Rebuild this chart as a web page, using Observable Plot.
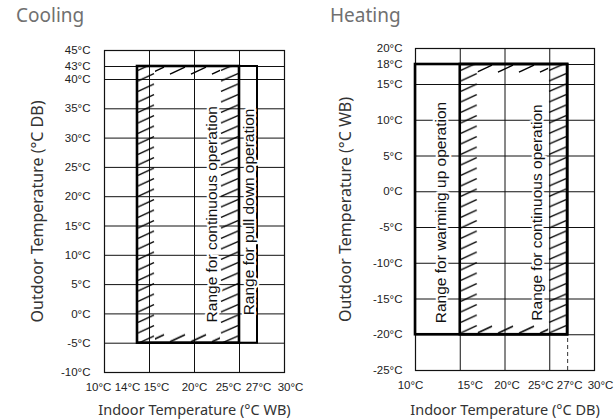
<!DOCTYPE html>
<html><head><meta charset="utf-8">
<script src="https://cdn.jsdelivr.net/npm/d3@7"></script>
<script src="https://cdn.jsdelivr.net/npm/@observablehq/plot@0.6"></script>
<style>
body{margin:0;background:#fff;}
#wrap{position:relative;width:615px;height:420px;overflow:hidden;background:#fff;}
.panel{position:absolute;top:0;}
.title{height:30px;font-family:"Noto Sans",sans-serif;font-size:19px;color:#707070;line-height:30px;white-space:nowrap;}
g[aria-label="tick label"] text{letter-spacing:-0.9px;}
</style></head><body>
<div id="wrap">
 <div class="panel" id="cool" style="left:0;width:307px"><div class="title" style="padding-left:16px">Cooling</div></div>
 <div class="panel" id="heat" style="left:307px;width:308px"><div class="title" style="padding-left:23px">Heating</div></div>
</div>
<script>
// ---------- data ----------
const coolingXTicks = [10, 14, 15, 20, 25, 27, 30];
const coolingYTicks = [45, 43, 40, 35, 30, 25, 20, 15, 10, 5, 0, -5, -10];
const coolingGridX = [10, 15, 20, 25, 30];
const coolingContinuous = [{x1: 14, x2: 25, y1: -5, y2: 43}];
const coolingPullDown = [{x1: 14, x2: 27, y1: -5, y2: 43}];
const coolingLabels = [
  {x: 22.0, y: 17.0, text: "Range for continuous operation"},
  {x: 26.1, y: 17.4, text: "Range for pull down operation"}
];

const heatingXTicks = [10, 15, 20, 25, 27, 30];
const heatingYTicks = [20, 18, 15, 10, 5, 0, -5, -10, -15, -20, -25];
const heatingGridX = [10, 15, 20, 25, 30];
const heatingWarmingUp = [{x1: 10, x2: 27, y1: -20, y2: 18}];
const heatingContinuous = [{x1: 15, x2: 27, y1: -20, y2: 18}];
const heatingDashed = [{x: 27, y1: -25, y2: -20}];
const heatingLabels = [
  {x: 12.8, y: -2.9, text: "Range for warming up operation"},
  {x: 23.6, y: -2.9, text: "Range for continuous operation"}
];

// ---------- helpers ----------
const fmt = d => `${d}°C`;
const tickFont = "'Liberation Sans', Arial, sans-serif";
const labelFont = "'Noto Sans', sans-serif";
const rangeFont = "'Liberation Sans', Arial, sans-serif";
const BAND = {left: 18, right: 19, top: 9, bottom: 10};

// hatch patterns, phased to the band edges through the plot's own scales
function patternDefs(id, box) {
  return (index, scales) => {
    const b = box[0];
    const sx = scales && typeof scales.x === "function" ? scales.x : () => 0;
    const sy = scales && typeof scales.y === "function" ? scales.y : () => 0;
    const left = sx(b.x1), right = sx(b.x2), top = sy(b.y2), bottom = sy(b.y1);
    const defs = d3.create("svg:defs");
    const add = (suffix, x, y, w, h, d) => defs.append("pattern")
      .attr("id", id + suffix).attr("patternUnits", "userSpaceOnUse")
      .attr("x", x).attr("y", y).attr("width", w).attr("height", h)
      .append("path").attr("d", d)
      .attr("stroke", "#000").attr("stroke-width", 1.4).attr("fill", "none");
    add("-L", left, 0, 80, 10.5, "M1,9L17,1.5");
    add("-R", right - BAND.right, 0, 80, 10.5, "M1,9L18,1.5");
    add("-T", 0, top, 21, 80, "M2,8.2L17,1.2");
    add("-B", 0, bottom - BAND.bottom, 21, 80, "M2,9L17,2");
    return defs.node();
  };
}

function hatchBands(box, id) {
  return [
    Plot.rect(box, {x1: "x1", x2: "x1", y1: "y1", y2: "y2", insetRight: -BAND.left, fill: `url(#${id}-L)`}),
    Plot.rect(box, {x1: "x2", x2: "x2", y1: "y1", y2: "y2", insetLeft: -BAND.right, fill: `url(#${id}-R)`}),
    Plot.rect(box, {x1: "x1", x2: "x2", y1: "y2", y2: "y2", insetLeft: BAND.left, insetRight: BAND.right, insetBottom: -BAND.top, fill: `url(#${id}-T)`}),
    Plot.rect(box, {x1: "x1", x2: "x2", y1: "y1", y2: "y1", insetLeft: BAND.left, insetRight: BAND.right, insetTop: -BAND.bottom, fill: `url(#${id}-B)`})
  ];
}

function xTickMarks(ticks, nudge, dy) {
  const groups = d3.group(ticks, t => nudge[t] ?? 0);
  return Array.from(groups, ([dx, vals]) => Plot.text(vals, {
    x: d => d, frameAnchor: "bottom", dy, dx, text: fmt,
    textAnchor: "middle", lineAnchor: "middle",
    fontSize: 11.5, fontFamily: tickFont, fill: "#222", ariaLabel: "tick label"
  }));
}

function yTickMarks(ticks, dx) {
  return Plot.text(ticks, {
    y: d => d, frameAnchor: "left", dx, textAnchor: "end", lineAnchor: "middle", text: fmt,
    fontSize: 11.5, fontFamily: tickFont, fill: "#222", ariaLabel: "tick label"
  });
}

function rangeText(labels) {
  return Plot.text(labels, {
    x: "x", y: "y", text: "text", rotate: -90,
    textAnchor: "middle", lineAnchor: "middle",
    fontSize: 15.5, fontFamily: rangeFont, fill: "#111",
    stroke: "white", strokeWidth: 4.5, paintOrder: "stroke", strokeLinejoin: "round"
  });
}

function axisLabel(text, anchor, offset) {
  const o = anchor === "left"
    ? {frameAnchor: "left", dx: offset, rotate: -90}
    : {frameAnchor: "bottom", dy: offset};
  return Plot.text([text], {
    ...o, text: d => d, textAnchor: "middle", lineAnchor: "middle",
    fontSize: anchor === "left" ? 16 : 14.5, fontFamily: labelFont, fill: "#333"
  });
}

// ---------- cooling ----------
const coolingNudge = {10: -6, 14: -10, 15: 7, 25: -11, 27: 1, 30: 6};
const cooling = Plot.plot({
  width: 307, height: 390,
  marginLeft: 104, marginRight: 23, marginTop: 20, marginBottom: 48,
  x: {type: "linear", domain: [10, 14, 15, 30], range: [104, 137, 149, 284], axis: null},
  y: {type: "linear", domain: [-10, 40, 43, 45], range: [342, 49, 36, 20], axis: null},
  style: {background: "white", overflow: "visible"},
  marks: [
    patternDefs("hatchCool", coolingContinuous),
    Plot.ruleX(coolingGridX, {stroke: "#111", strokeWidth: 1}),
    Plot.ruleY(coolingYTicks, {stroke: "#111", strokeWidth: 1}),
    Plot.frame({stroke: "#111", strokeWidth: 1.2}),
    ...hatchBands(coolingContinuous, "hatchCool"),
    Plot.rect(coolingPullDown, {x1: "x1", x2: "x2", y1: "y1", y2: "y2", fill: "none", stroke: "#000", strokeWidth: 2}),
    rangeText(coolingLabels),
    Plot.rect(coolingContinuous, {x1: "x1", x2: "x2", y1: "y1", y2: "y2", fill: "none", stroke: "#000", strokeWidth: 2.6}),
    ...xTickMarks(coolingXTicks, coolingNudge, 15),
    yTickMarks(coolingYTicks, -14),
    axisLabel("Outdoor Temperature (°C DB)", "left", -67),
    axisLabel("Indoor Temperature (°C WB)", "bottom", 38)
  ]
});
document.getElementById("cool").appendChild(cooling);

// ---------- heating ----------
const heatingNudge = {10: -5, 15: 10, 20: 2, 25: -9, 27: 2, 30: 6};
const heating = Plot.plot({
  width: 308, height: 390,
  marginLeft: 108, marginRight: 21, marginTop: 18, marginBottom: 50,
  x: {type: "linear", domain: [10, 30], range: [108, 287], axis: null},
  y: {type: "linear", domain: [-25, 15, 18, 20], range: [340, 54, 34, 18], axis: null},
  style: {background: "white", overflow: "visible"},
  marks: [
    patternDefs("hatchHeat", heatingContinuous),
    Plot.ruleX(heatingGridX, {stroke: "#111", strokeWidth: 1}),
    Plot.ruleY(heatingYTicks, {stroke: "#111", strokeWidth: 1}),
    Plot.frame({stroke: "#111", strokeWidth: 1.2}),
    ...hatchBands(heatingContinuous, "hatchHeat"),
    Plot.ruleX(heatingDashed, {x: "x", y1: "y1", y2: "y2", stroke: "#333", strokeWidth: 1, strokeDasharray: "4,3"}),
    rangeText(heatingLabels),
    Plot.rect(heatingWarmingUp, {x1: "x1", x2: "x2", y1: "y1", y2: "y2", fill: "none", stroke: "#000", strokeWidth: 2.6}),
    Plot.rect(heatingContinuous, {x1: "x1", x2: "x2", y1: "y1", y2: "y2", fill: "none", stroke: "#000", strokeWidth: 2.6}),
    ...xTickMarks(heatingXTicks, heatingNudge, 15),
    yTickMarks(heatingYTicks, -13),
    axisLabel("Outdoor Temperature (°C WB)", "left", -70),
    axisLabel("Indoor Temperature (°C DB)", "bottom", 40)
  ]
});
document.getElementById("heat").appendChild(heating);
</script>
</body></html>
